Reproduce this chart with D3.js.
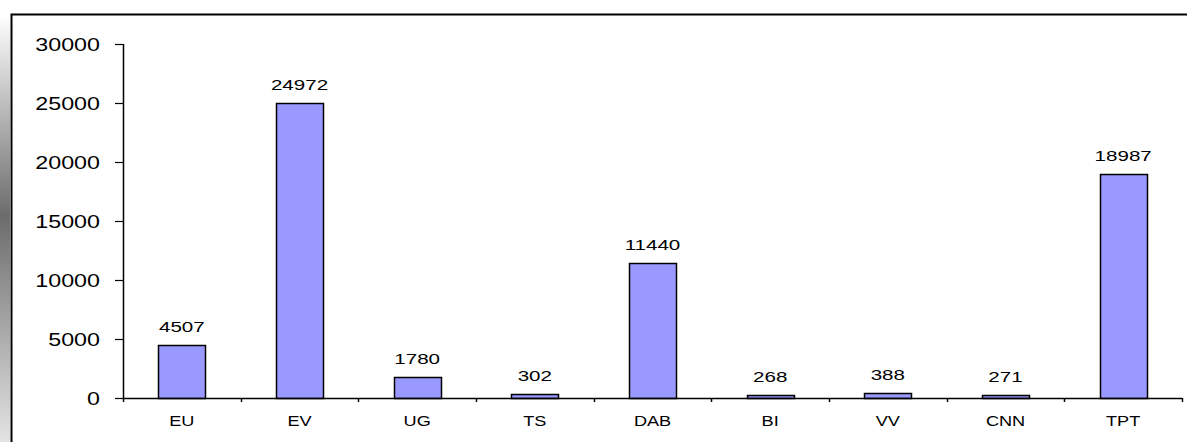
<!DOCTYPE html>
<html><head><meta charset="utf-8">
<script src="https://cdn.jsdelivr.net/npm/d3@7"></script>
<style>html,body{margin:0;padding:0;background:#fff;}svg{display:block;}</style>
</head><body>
<script>
const categories = ["EU","EV","UG","TS","DAB","BI","VV","CNN","TPT"];
const values = [4507,24972,1780,302,11440,268,388,271,18987];
const yTicks = [0,5000,10000,15000,20000,25000,30000];

const W = 1187, H = 442;
const svg = d3.select("body").append("svg").attr("width", W).attr("height", H);
const defs = svg.append("defs");
const grad = defs.append("linearGradient").attr("id","lg").attr("x1",0).attr("y1",0).attr("x2",0).attr("y2",1);
grad.append("stop").attr("offset","0%").attr("stop-color","#ffffff");
grad.append("stop").attr("offset","47%").attr("stop-color","#6c6c6c");
grad.append("stop").attr("offset","100%").attr("stop-color","#e4e4e4");
svg.append("rect").attr("x",0).attr("y",15).attr("width",10).attr("height",H-15).attr("fill","url(#lg)");

// frame
svg.append("path").attr("d",`M11.5,${H}V14.5H${W}`).attr("fill","none").attr("stroke","#000").attr("stroke-width",2);

const x0 = 123, x1 = 1182, yTop = 44, yBot = 398;
const x = d3.scaleBand().domain(categories).range([x0,x1]).paddingInner(0.6).paddingOuter(0.3);
const y = d3.scaleLinear().domain([0,30000]).range([yBot,yTop]);

function stretched(g, xx, yy, txt, size, anchor, sx){
  return g.append("text").attr("transform",`translate(${xx},${yy}) scale(${sx},1)`)
    .attr("text-anchor",anchor).attr("font-family","Liberation Sans, Arial, sans-serif")
    .attr("font-size",size).attr("fill","#000").text(txt);
}

// y axis
const yg = svg.append("g");
yg.append("line").attr("x1",x0+0.5).attr("x2",x0+0.5).attr("y1",yTop).attr("y2",yBot).attr("stroke","#000").attr("stroke-width",1.5);
yTicks.forEach(t=>{
  const yy = Math.round(y(t))+0.5;
  yg.append("line").attr("x1",x0-8).attr("x2",x0).attr("y1",yy).attr("y2",yy).attr("stroke","#000").attr("stroke-width",1.2);
  stretched(yg, 100, yy+6, String(t), 17.5, "end", 1.33);
});

// bars
const bg = svg.append("g");
bg.selectAll("rect").data(values).join("rect")
  .attr("x",(d,i)=>Math.round(x(categories[i]))+0.5)
  .attr("y",d=>Math.round(y(d))+0.5)
  .attr("width",Math.round(x.bandwidth()))
  .attr("height",d=>Math.max(0,Math.round(yBot - y(d))))
  .attr("fill","#9999ff").attr("stroke","#000").attr("stroke-width",1.5);

values.forEach((v,i)=>{
  stretched(bg, x(categories[i])+x.bandwidth()/2, y(v)-13, String(v), 15, "middle", 1.37);
});

// x axis
const xg = svg.append("g");
xg.append("line").attr("x1",x0).attr("x2",x1).attr("y1",yBot+0.5).attr("y2",yBot+0.5).attr("stroke","#000").attr("stroke-width",1.5);
const step = x.step();
for(let k=0;k<=categories.length;k++){
  const xx = Math.round(x0 + k*step)+0.5;
  xg.append("line").attr("x1",xx).attr("x2",xx).attr("y1",yBot).attr("y2",yBot+4).attr("stroke","#000").attr("stroke-width",1.5);
}
categories.forEach(c=>{
  stretched(xg, x(c)+x.bandwidth()/2, 426, c, 14.5, "middle", 1.25);
});
</script>
</body></html>
